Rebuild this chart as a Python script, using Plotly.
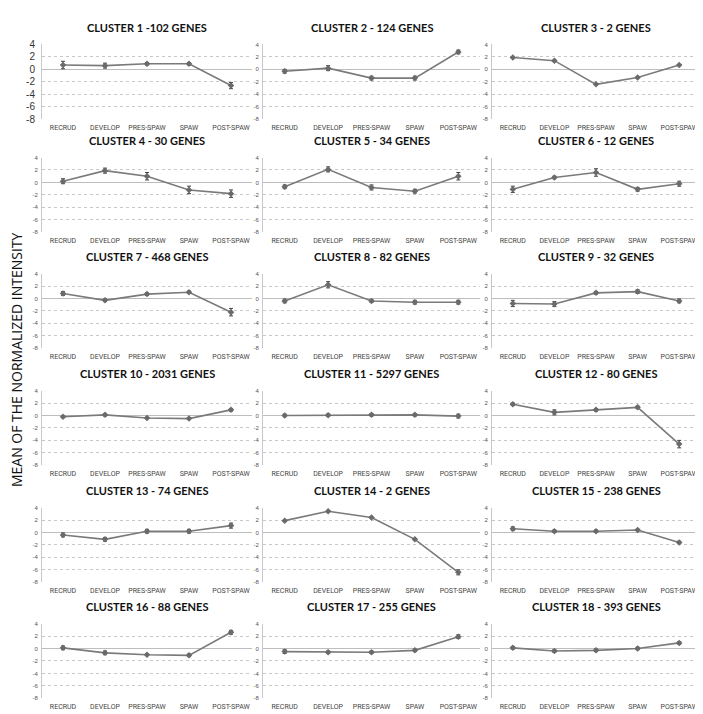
import plotly.graph_objects as go

W, H = 703, 714

stages = ["RECRUD", "DEVELOP", "PRES-SPAW", "SPAW", "POST-SPAW"]
y_ticks = [4, 2, 0, -2, -4, -6, -8]
y_tick_text = ["4", "2", "0", "-2", "-4", "-6", "-8"]

titles = [
    "CLUSTER 1 -102 GENES", "CLUSTER 2 - 124 GENES", "CLUSTER 3 - 2 GENES",
    "CLUSTER 4 - 30 GENES", "CLUSTER 5 - 34 GENES", "CLUSTER 6 - 12 GENES",
    "CLUSTER 7 - 468 GENES", "CLUSTER 8 - 82 GENES", "CLUSTER 9 - 32 GENES",
    "CLUSTER 10 - 2031 GENES", "CLUSTER 11 - 5297 GENES", "CLUSTER 12 - 80 GENES",
    "CLUSTER 13 - 74 GENES", "CLUSTER 14 - 2 GENES", "CLUSTER 15 - 238 GENES",
    "CLUSTER 16 - 88 GENES", "CLUSTER 17 - 255 GENES", "CLUSTER 18 - 393 GENES",
]

c1_mean = [0.7, 0.6, 0.9, 0.9, -2.6]
c1_err = [0.6, 0.4, 0.2, 0.2, 0.5]
c2_mean = [-0.3, 0.2, -1.4, -1.4, 2.8]
c2_err = [0.3, 0.4, 0.3, 0.3, 0.3]
c3_mean = [1.9, 1.4, -2.4, -1.3, 0.7]
c3_err = [0.05, 0.05, 0.05, 0.05, 0.05]
c4_mean = [0.2, 1.9, 1.0, -1.2, -1.8]
c4_err = [0.4, 0.4, 0.6, 0.6, 0.6]
c5_mean = [-0.7, 2.1, -0.8, -1.4, 1.0]
c5_err = [0.3, 0.4, 0.4, 0.3, 0.6]
c6_mean = [-1.1, 0.8, 1.6, -1.1, -0.2]
c6_err = [0.5, 0.2, 0.6, 0.3, 0.4]
c7_mean = [0.8, -0.3, 0.7, 1.0, -2.2]
c7_err = [0.3, 0.2, 0.2, 0.2, 0.6]
c8_mean = [-0.4, 2.2, -0.4, -0.6, -0.6]
c8_err = [0.3, 0.5, 0.2, 0.3, 0.3]
c9_mean = [-0.8, -0.9, 0.9, 1.1, -0.4]
c9_err = [0.5, 0.4, 0.2, 0.3, 0.3]
c10_mean = [-0.2, 0.1, -0.4, -0.5, 0.9]
c10_err = [0.15, 0.2, 0.1, 0.1, 0.2]
c11_mean = [0.0, 0.05, 0.1, 0.1, -0.1]
c11_err = [0.2, 0.2, 0.2, 0.2, 0.3]
c12_mean = [1.8, 0.5, 0.9, 1.3, -4.6]
c12_err = [0.2, 0.4, 0.2, 0.2, 0.6]
c13_mean = [-0.4, -1.1, 0.2, 0.2, 1.1]
c13_err = [0.3, 0.3, 0.3, 0.3, 0.4]
c14_mean = [1.9, 3.4, 2.4, -1.1, -6.4]
c14_err = [0.05, 0.05, 0.05, 0.05, 0.4]
c15_mean = [0.6, 0.2, 0.2, 0.4, -1.6]
c15_err = [0.3, 0.2, 0.2, 0.1, 0.2]
c16_mean = [0.1, -0.7, -1.0, -1.1, 2.6]
c16_err = [0.3, 0.3, 0.15, 0.2, 0.3]
c17_mean = [-0.5, -0.6, -0.6, -0.3, 1.9]
c17_err = [0.3, 0.2, 0.2, 0.2, 0.3]
c18_mean = [0.1, -0.4, -0.3, 0.0, 0.9]
c18_err = [0.2, 0.2, 0.2, 0.2, 0.2]

means = [c1_mean, c2_mean, c3_mean, c4_mean, c5_mean, c6_mean, c7_mean, c8_mean, c9_mean,
         c10_mean, c11_mean, c12_mean, c13_mean, c14_mean, c15_mean, c16_mean, c17_mean, c18_mean]
errs = [c1_err, c2_err, c3_err, c4_err, c5_err, c6_err, c7_err, c8_err, c9_err,
        c10_err, c11_err, c12_err, c13_err, c14_err, c15_err, c16_err, c17_err, c18_err]

# pixel layout
col_px = [(34, 244), (255, 472), (484, 692)]
row_top = [31, 146, 264, 383, 502, 620]
plot_h = 76

fig = go.Figure()
layout = dict(
    width=W, height=H, margin=dict(l=0, r=0, t=0, b=0),
    paper_bgcolor="white", plot_bgcolor="white", showlegend=False,
    font=dict(family="Liberation Sans", color="#444"),
)
annotations = []

for i in range(18):
    r, c = divmod(i, 3)
    n = i + 1
    xa = "xaxis" if n == 1 else f"xaxis{n}"
    ya = "yaxis" if n == 1 else f"yaxis{n}"
    xr = "x" if n == 1 else f"x{n}"
    yr = "y" if n == 1 else f"y{n}"
    x0, x1 = col_px[c]
    top = row_top[r]
    bot = top + plot_h
    first = (i == 0)
    fig.add_trace(go.Scatter(
        x=list(range(5)), y=means[i], xaxis=xr, yaxis=yr, mode="lines+markers",
        line=dict(color="#7a7a7a", width=1.6),
        marker=dict(symbol="diamond", size=5, color="#6a6a6a"),
        error_y=dict(type="data", array=errs[i], visible=True, color="#444", thickness=1, width=2),
        cliponaxis=False,
    ))
    layout[xa] = dict(
        domain=[x0 / W, x1 / W], anchor=yr, range=[-0.5, 4.5],
        tickvals=list(range(5)), ticktext=stages, showgrid=False, zeroline=False,
        showline=False, ticks="",
        tickfont=dict(size=7, color="#444", family="Roboto"),
        ticklabelstandoff=3, fixedrange=True,
    )
    layout[ya] = dict(
        domain=[1 - bot / H, 1 - top / H], anchor=xr, range=[-8, 4],
        tickvals=y_ticks, ticktext=y_tick_text,
        showgrid=True, gridcolor="#c8c8c8", griddash="dot", gridwidth=1,
        zeroline=True, zerolinecolor="#bdbdbd", zerolinewidth=1.2,
        showline=True, linecolor="#c8c8c8", linewidth=1,
        ticks="", tickfont=dict(size=10 if first else 6, color="#333" if first else "#555"),
        ticklabelstandoff=4 if first else 2, fixedrange=True,
    )
    annotations.append(dict(
        text=f"<b>{titles[i]}</b>", x=(x0 + x1) / 2 / W, y=1 - (top - 17) / H,
        xref="paper", yref="paper", showarrow=False, xanchor="center", yanchor="middle",
        font=dict(family="Lato, Open Sans", size=11, color="#111"),
    ))

annotations.append(dict(
    text="MEAN OF THE NORMALIZED INTENSITY", x=8 / W, y=1 - 352 / H,
    xref="paper", yref="paper", showarrow=False, textangle=-90,
    xanchor="center", yanchor="middle",
    font=dict(family="Open Sans, Liberation Sans", size=14, color="#111"),
))
layout["annotations"] = annotations
fig.update_layout(**layout)
fig.write_html("out.html")
